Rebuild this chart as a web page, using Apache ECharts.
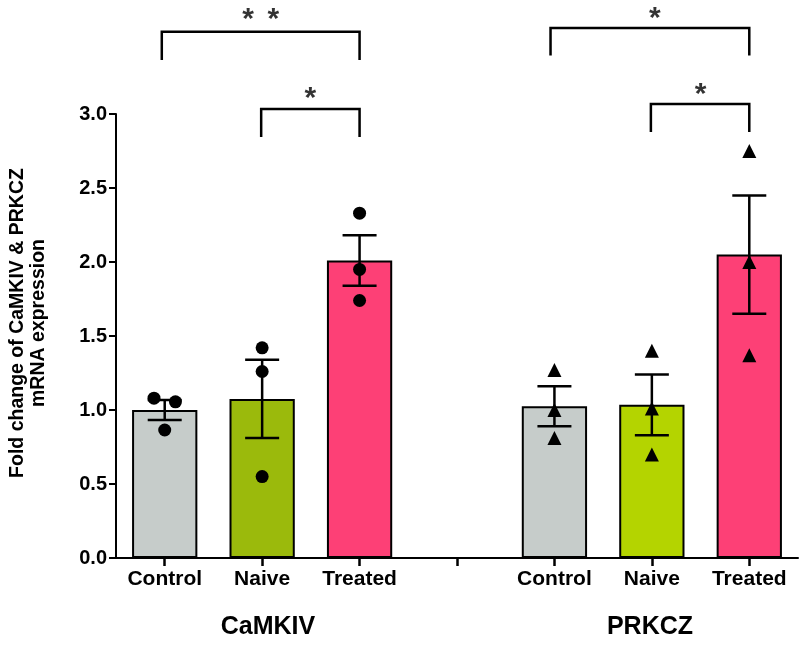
<!DOCTYPE html>
<html>
<head>
<meta charset="utf-8">
<script src="https://cdn.jsdelivr.net/npm/echarts@6/dist/echarts.min.js"></script>
<style>
html,body{margin:0;padding:0;background:#fff;}
#chart{width:800px;height:647px;}
</style>
</head>
<body>
<div id="chart"></div>
<script>
// ---- data ----
const groups = ['CaMKIV', 'PRKCZ'];
const conditions = ['Control', 'Naive', 'Treated'];
const categories = ['CaMKIV Control', 'CaMKIV Naive', 'CaMKIV Treated', 'gap', 'PRKCZ Control', 'PRKCZ Naive', 'PRKCZ Treated'];
const tickLabels = ['Control', 'Naive', 'Treated', '', 'Control', 'Naive', 'Treated'];
const yTicks = [0, 0.5, 1.0, 1.5, 2.0, 2.5, 3.0];
const meanValues = [1.0, 1.075, 2.01, null, 1.025, 1.035, 2.05];
const semValues = [0.068, 0.265, 0.17, null, 0.135, 0.205, 0.40];
const barColors = ['#c6ccca', '#9bba0c', '#fd4076', null, '#c6ccca', '#b4d400', '#fd4076'];

const camkivPointCat = [0, 0, 0, 1, 1, 1, 2, 2, 2];
const camkivPointJitter = [-0.11, 0.11, 0, 0, 0, 0, 0, 0, 0];
const camkivPointValues = [1.08, 1.055, 0.865, 1.42, 1.26, 0.55, 2.33, 1.95, 1.74];

const prkczPointCat = [4, 4, 4, 5, 5, 5, 6, 6, 6];
const prkczPointJitter = [0, 0, 0, 0, 0, 0, 0, 0, 0];
const prkczPointValues = [1.27, 1.0, 0.81, 1.40, 1.01, 0.70, 2.75, 2.0, 1.37];

// significance brackets (category units / y units)
const bracketStart = [-0.03, 0.99, 3.96, 4.99];
const bracketEnd = [2.0, 2.0, 6.0, 6.0];
const bracketTop = [3.556, 3.034, 3.581, 3.068];
const bracketLeg = [3.365, 2.845, 3.395, 2.878];
const starX = [0.857, 1.114, 1.494, 5.03, 5.50];
const starY = [3.676, 3.676, 3.142, 3.682, 3.169];
const starText = ['*', '*', '*', '*', '*'];

const yAxisTitle = ['Fold change of CaMKIV & PRKCZ', 'mRNA expression'];

// ---- build ----
const FONT = 'Liberation Sans, Arial, Helvetica, sans-serif';
const chart = echarts.init(document.getElementById('chart'));

const barData = meanValues.map((v, i) => v == null ? null : ({
  value: v,
  itemStyle: { color: barColors[i], borderColor: '#000', borderWidth: 2 }
}));
const errData = meanValues.map((v, i) => v == null ? null : [i, v - semValues[i], v + semValues[i]]).filter(d => d);
const camkivPts = camkivPointValues.map((v, i) => [camkivPointCat[i] + camkivPointJitter[i], v]);
const prkczPts = prkczPointValues.map((v, i) => [prkczPointCat[i] + prkczPointJitter[i], v]);
const bracketData = bracketStart.map((s, i) => [s, bracketEnd[i], bracketTop[i], bracketLeg[i]]);
const starData = starX.map((x, i) => ({ value: [x, starY[i]], label: { formatter: starText[i] } }));

const option = {
  animation: false,
  backgroundColor: '#fff',
  grid: { left: 116, right: 2, top: 114, bottom: 89 },
  xAxis: [{
    type: 'category',
    data: categories,
    boundaryGap: true,
    axisLine: { show: true, onZero: false, lineStyle: { color: '#000', width: 2 } },
    axisTick: { show: true, alignWithLabel: true, interval: 0, length: 8, lineStyle: { color: '#000', width: 2.5 } },
    axisLabel: {
      interval: 0, margin: 11, color: '#000', fontSize: 21, fontWeight: 'bold', fontFamily: FONT,
      formatter: (v, i) => tickLabels[i]
    },
    splitLine: { show: false }
  }, {
    type: 'value', min: -0.5, max: 6.5, show: false,
    axisLine: { onZero: false }
  }],
  yAxis: {
    type: 'value', min: 0, max: 3, interval: 0.5,
    axisLine: { show: true, onZero: false, lineStyle: { color: '#000', width: 2 } },
    axisTick: { show: true, length: 7, lineStyle: { color: '#000', width: 2 } },
    axisLabel: {
      margin: 9, color: '#000', fontSize: 20, fontWeight: 'bold', fontFamily: FONT,
      formatter: v => yTicks.indexOf(v) >= 0 ? v.toFixed(1) : ''
    },
    splitLine: { show: false }
  },
  series: [
    {
      type: 'bar', xAxisIndex: 0, data: barData, barWidth: '67%', z: 2
    },
    {
      type: 'custom', xAxisIndex: 0, z: 3, data: errData,
      encode: { x: 0, y: [1, 2] },
      renderItem: (params, api) => {
        const x = api.value(0);
        const lo = api.coord([x, api.value(1)]);
        const hi = api.coord([x, api.value(2)]);
        const hw = 17;
        const st = { stroke: '#000', lineWidth: 2.5 };
        return {
          type: 'group', children: [
            { type: 'line', shape: { x1: lo[0], y1: lo[1], x2: hi[0], y2: hi[1] }, style: st },
            { type: 'line', shape: { x1: hi[0] - hw, y1: hi[1], x2: hi[0] + hw, y2: hi[1] }, style: st },
            { type: 'line', shape: { x1: lo[0] - hw, y1: lo[1], x2: lo[0] + hw, y2: lo[1] }, style: st }
          ]
        };
      }
    },
    {
      type: 'scatter', xAxisIndex: 1, z: 4, data: camkivPts, symbol: 'circle', symbolSize: 13,
      itemStyle: { color: '#000', opacity: 1 }
    },
    {
      type: 'scatter', xAxisIndex: 1, z: 4, data: prkczPts, symbol: 'triangle', symbolSize: 14,
      itemStyle: { color: '#000', opacity: 1 }
    },
    {
      type: 'custom', xAxisIndex: 1, z: 5, data: bracketData, clip: false,
      encode: { x: [0, 1], y: [2, 3] },
      renderItem: (params, api) => {
        const a = api.coord([api.value(0), api.value(3)]);
        const b = api.coord([api.value(0), api.value(2)]);
        const c = api.coord([api.value(1), api.value(2)]);
        const d = api.coord([api.value(1), api.value(3)]);
        return {
          type: 'polyline',
          shape: { points: [a, b, c, d] },
          style: { stroke: '#000', lineWidth: 2.5, fill: null }
        };
      }
    },
    {
      type: 'scatter', xAxisIndex: 1, z: 5, data: starData, symbolSize: 1, clip: false,
      itemStyle: { color: 'rgba(0,0,0,0)' },
      label: {
        show: true, position: 'inside', color: '#000', fontSize: 30, fontWeight: 'bold',
        fontFamily: FONT, offset: [0, 6]
      }
    }
  ],
  graphic: [
    {
      type: 'text', x: 28, y: 323, rotation: Math.PI / 2,
      style: {
        text: yAxisTitle.join('\n'), fill: '#000', fontSize: 19.5, fontWeight: 'bold', fontFamily: FONT,
        align: 'center', verticalAlign: 'middle', lineHeight: 21
      }
    },
    {
      type: 'text', x: 268, y: 627,
      style: { text: groups[0], fill: '#000', fontSize: 25, fontWeight: 'bold', fontFamily: FONT, align: 'center', verticalAlign: 'middle' }
    },
    {
      type: 'text', x: 650, y: 627,
      style: { text: groups[1], fill: '#000', fontSize: 25, fontWeight: 'bold', fontFamily: FONT, align: 'center', verticalAlign: 'middle' }
    }
  ]
};
chart.setOption(option);
</script>
</body>
</html>
